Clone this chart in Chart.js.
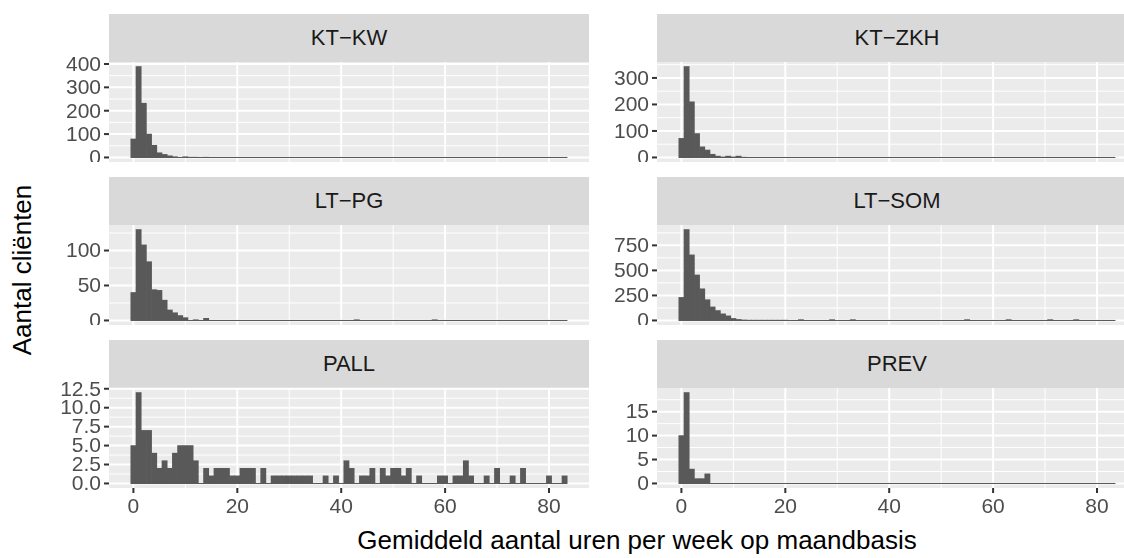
<!DOCTYPE html>
<html>
<head>
<meta charset="utf-8">
<script src="https://cdn.jsdelivr.net/npm/chart.js@4"></script>
<style>
  body { margin: 0; background: #fff; font-family: "Liberation Sans", Arial, sans-serif; overflow: hidden; }
  #wrap { position: relative; width: 1124px; height: 558px; overflow: hidden; }
  .strip { position: absolute; background: #D9D9D9; color: #1A1A1A; font-size: 22px;
           display: flex; align-items: center; justify-content: center; }
  .box { position: absolute; }
  .ttl { position: absolute; color: #000; font-size: 26px; white-space: nowrap; }
</style>
</head>
<body>
<div id="wrap">
  <div class="ttl" style="left:637px;top:540px;transform:translate(-50%,-50%)">Gemiddeld aantal uren per week op maandbasis</div>
  <div class="ttl" style="left:22px;top:270px;transform:translate(-50%,-50%) rotate(-90deg)">Aantal cliënten</div>
</div>
<script>
// bins centred on 0..83 hours, width 1
const bins = Array.from({length: 84}, (_, i) => i);

function series(head, extra) {
    const out = new Array(84).fill(0);
    head.forEach((v, i) => out[i] = v);
    Object.keys(extra || {}).forEach(k => out[+k] = extra[k]);
    return out;
}

const ktKw = series([79, 389, 232, 100, 52, 20, 13, 7, 3, 0, 3, 1, 1, 0, 1]);
const ktZkh = series([72, 343, 210, 90, 40, 28, 12, 5, 2, 5, 2, 5, 1]);
const ltPg = series([40, 130, 108, 84, 44, 43, 29, 15, 11, 7, 4, 0, 1, 0, 3], {43: 1, 58: 1});
const ltSom = series([230, 908, 655, 454, 316, 207, 135, 99, 66, 46, 20, 10, 5, 3, 3, 3, 3, 3, 3, 3, 3],
    {23: 8, 29: 8, 33: 8, 55: 8, 63: 8, 71: 8, 76: 8});
const pall = [5, 12, 7, 7, 4, 2, 3, 2, 4, 5, 5, 5, 3, 0, 2, 1, 2, 2, 2, 1, 1, 2, 2, 2, 0, 2, 0,
    1, 1, 1, 1, 1, 1, 1, 1, 0, 0, 1, 0, 1, 0, 3, 2, 0, 1, 1, 2, 0, 2, 1, 2, 2, 1, 2, 0, 1, 0, 0,
    0, 1, 1, 0, 1, 1, 3, 1, 0, 0, 1, 0, 2, 0, 0, 1, 0, 2, 0, 0, 0, 0, 1, 0, 0, 1];
const prev = series([10, 19, 3, 1, 1, 2]);

const xMajor = [0, 20, 40, 60, 80];
const xMinor = [10, 30, 50, 70];

const panels = [
    {name: 'KT\u2212KW', data: ktKw, yMajor: [0, 100, 200, 300, 400], dec: 0},
    {name: 'KT\u2212ZKH', data: ktZkh, yMajor: [0, 100, 200, 300], dec: 0},
    {name: 'LT\u2212PG', data: ltPg, yMajor: [0, 50, 100], dec: 0},
    {name: 'LT\u2212SOM', data: ltSom, yMajor: [0, 250, 500, 750], dec: 0},
    {name: 'PALL', data: pall, yMajor: [0, 2.5, 5, 7.5, 10, 12.5], dec: 1},
    {name: 'PREV', data: prev, yMajor: [0, 5, 10, 15], dec: 0}
];

const rowTop = [14, 177, 340];
const stripH = 48;
const plotH = 100;
const colLeft = [109, 657];
const plotW = 480;
const axisW = 70;
const xAxisH = 34;
const headroom = 14;

// ggplot-style panel: grey background, white grid, dark tick marks, tick labels
const panelPlugin = {
    id: 'panel',
    beforeDatasetsDraw(chart) {
        const a = chart.chartArea, c = chart.ctx;
        const xs = chart.scales.x, ys = chart.scales.y;
        const o = chart.options.plugins.panel;
        c.save();
        c.fillStyle = '#EBEBEB';
        c.fillRect(a.left, a.top, a.right - a.left, a.bottom - a.top);
        c.strokeStyle = '#FFFFFF';
        const line = (x1, y1, x2, y2, w) => {
            c.lineWidth = w; c.beginPath(); c.moveTo(x1, y1); c.lineTo(x2, y2); c.stroke();
        };
        o.yMinor.forEach(v => { const y = ys.getPixelForValue(v); line(a.left, y, a.right, y, 1); });
        xMinor.forEach(v => { const x = xs.getPixelForValue(v); line(x, a.top, x, a.bottom, 1); });
        o.yMajor.forEach(v => { const y = ys.getPixelForValue(v); line(a.left, y, a.right, y, 2); });
        xMajor.forEach(v => { const x = xs.getPixelForValue(v); line(x, a.top, x, a.bottom, 2); });
        c.strokeStyle = '#333333';
        c.fillStyle = '#4D4D4D';
        c.font = '21px "Liberation Sans"';
        c.textAlign = 'right'; c.textBaseline = 'middle';
        o.yMajor.forEach(v => {
            const y = ys.getPixelForValue(v);
            line(a.left - 5, y, a.left, y, 2);
            c.fillText(v.toFixed(o.dec), a.left - 8, y + 1);
        });
        if (o.bottom) {
            c.textAlign = 'center'; c.textBaseline = 'top';
            xMajor.forEach(v => {
                const x = xs.getPixelForValue(v);
                line(x, a.bottom, x, a.bottom + 5, 2);
                c.fillText(String(v), x, a.bottom + 9);
            });
        }
        c.restore();
    }
};

const wrap = document.getElementById('wrap');

panels.forEach((p, i) => {
    const row = Math.floor(i / 2), col = i % 2;
    const bottom = row === 2;
    const top = rowTop[row];

    const strip = document.createElement('div');
    strip.className = 'strip';
    strip.textContent = p.name;
    Object.assign(strip.style, {left: colLeft[col] + 'px', top: top + 'px', width: plotW + 'px', height: stripH + 'px'});
    wrap.appendChild(strip);

    const box = document.createElement('div');
    box.className = 'box';
    const h = headroom + plotH + (bottom ? xAxisH : 0);
    Object.assign(box.style, {left: (colLeft[col] - axisW) + 'px', top: (top + stripH - headroom) + 'px',
        width: (plotW + axisW) + 'px', height: h + 'px'});
    const cv = document.createElement('canvas');
    box.appendChild(cv);
    wrap.appendChild(box);

    const maxV = Math.max(...p.data);
    const yMin = -0.05 * maxV, yMax = maxV * 1.05;
    const step = p.yMajor[1] - p.yMajor[0];
    const yMinor = [];
    p.yMajor.forEach(v => { if (v + step / 2 <= yMax) yMinor.push(v + step / 2); });

    new Chart(cv, {
        data: {
            datasets: [
                {type: 'bar', data: bins.map((b, k) => ({x: b, y: p.data[k]})),
                 backgroundColor: '#595959', barPercentage: 1, categoryPercentage: 1, borderWidth: 0},
                {type: 'line', data: [{x: -0.5, y: 0}, {x: 83.5, y: 0}],
                 borderColor: '#595959', borderWidth: 1, pointRadius: 0}
            ]
        },
        options: {
            responsive: true, maintainAspectRatio: false, animation: false,
            layout: {padding: {left: axisW, right: 0, top: headroom, bottom: bottom ? xAxisH : 0}},
            plugins: {legend: {display: false}, tooltip: {enabled: false},
                      panel: {yMajor: p.yMajor, yMinor: yMinor, bottom: bottom, dec: p.dec}},
            scales: {
                x: {type: 'linear', min: -4.7, max: 87.7, offset: false, display: false},
                y: {min: yMin, max: yMax, display: false}
            }
        },
        plugins: [panelPlugin]
    });
});
</script>
</body>
</html>
